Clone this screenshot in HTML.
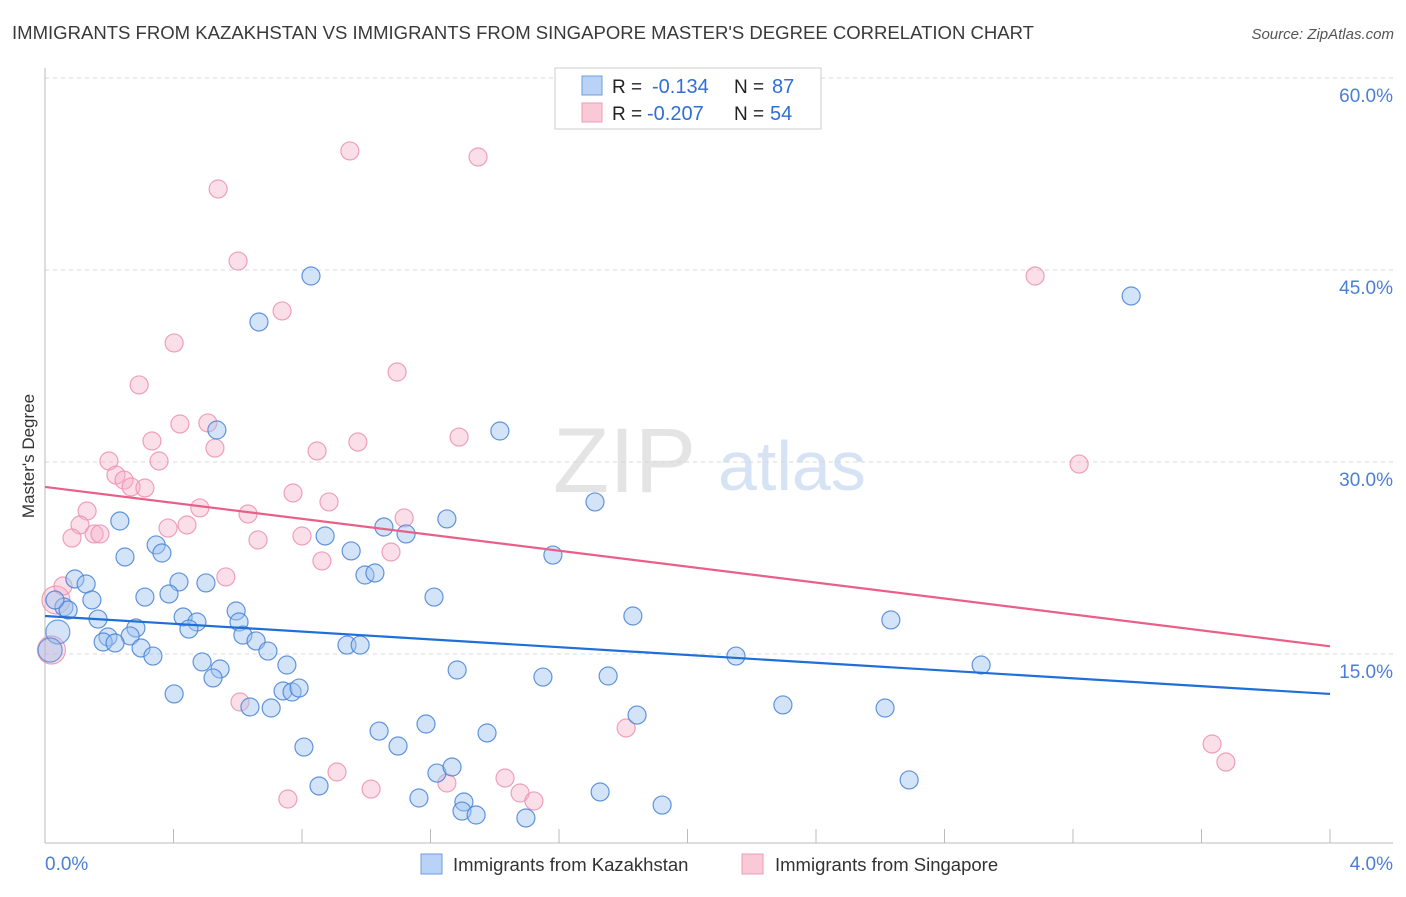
<!DOCTYPE html>
<html><head><meta charset="utf-8"><style>
body{margin:0;background:#fff;font-family:"Liberation Sans",sans-serif;}
svg text{font-family:"Liberation Sans",sans-serif;}
</style></head><body>
<svg id="chart" width="1406" height="892" viewBox="0 0 1406 892" xmlns="http://www.w3.org/2000/svg">
<text x="12" y="39" font-size="18.4" fill="#3a3a3a" textLength="1022" lengthAdjust="spacingAndGlyphs">IMMIGRANTS FROM KAZAKHSTAN VS IMMIGRANTS FROM SINGAPORE MASTER'S DEGREE CORRELATION CHART</text>
<text x="1394" y="39" font-size="15" fill="#555" font-style="italic" text-anchor="end">Source: ZipAtlas.com</text>
<g>
<text x="553" y="492" font-size="92" fill="#e4e4e4" font-family="Liberation Serif,serif">ZIP</text>
<text x="718" y="490" font-size="70" fill="#d6e3f5">atlas</text>
</g>
<g id="grid"></g>
<g id="axes"></g>
<g id="marks"></g>
<g id="trends"></g>
<text transform="translate(34,456) rotate(-90)" font-size="17" fill="#333" text-anchor="middle">Master's Degree</text>
<g>
<rect x="555" y="68" width="266" height="61" fill="#fff" stroke="#ccc"/>
<rect x="582" y="76" width="20" height="19" fill="#b9d2f5" stroke="#6f9ede"/>
<rect x="582" y="103" width="20" height="19" fill="#f9c9d7" stroke="#ee9db6"/>
<text x="612" y="93" font-size="19" fill="#222">R =</text>
<text x="652" y="93" font-size="20" fill="#2f6fd6">-0.134</text>
<text x="734" y="93" font-size="19" fill="#222">N =</text>
<text x="772" y="93" font-size="20" fill="#2f6fd6">87</text>
<text x="612" y="120" font-size="19" fill="#222">R =</text>
<text x="647" y="120" font-size="20" fill="#2f6fd6">-0.207</text>
<text x="734" y="120" font-size="19" fill="#222">N =</text>
<text x="770" y="120" font-size="20" fill="#2f6fd6">54</text>
</g>
<g>
<rect x="421" y="854" width="21" height="20" fill="#b9d2f5" stroke="#6f9ede"/>
<text x="453" y="871" font-size="18.5" fill="#333">Immigrants from Kazakhstan</text>
<rect x="742" y="854" width="21" height="20" fill="#f9c9d7" stroke="#ee9db6"/>
<text x="775" y="871" font-size="18.5" fill="#333">Immigrants from Singapore</text>
</g>
</svg>
<script>
const xTickLabels=["0.0%","4.0%"];
const yTicks=[15,30,45,60];
const yTickLabels=["15.0%","30.0%","45.0%","60.0%"];
const kazX=[0.828,0.666,0.535,1.416,3.381,1.712,1.251,0.233,1.055,1.124,0.872,0.346,0.364,0.249,0.953,1.581,0.093,0.128,0.417,0.501,0.996,1.027,1.211,0.311,0.386,0.146,0.059,0.072,0.031,0.165,0.430,0.473,0.595,0.604,1.830,2.633,0.448,0.283,0.196,0.265,0.616,0.657,0.181,0.218,0.299,0.694,0.940,0.981,0.336,2.151,2.914,0.489,0.545,0.753,1.283,0.523,1.550,1.753,0.402,0.741,0.769,0.791,0.638,0.704,2.297,2.615,1.843,1.186,1.040,1.376,0.806,1.099,1.220,1.267,0.853,1.728,2.690,1.164,1.304,1.298,1.342,1.497,1.921];
const kazY=[44.53,40.94,32.5,32.42,42.97,26.88,25.55,25.39,24.92,24.38,24.22,23.52,22.89,22.58,23.05,22.73,20.86,20.47,20.63,20.55,21.17,21.33,19.45,19.45,19.69,19.22,18.67,18.44,19.22,17.73,17.89,17.5,18.36,17.5,17.97,17.66,16.95,17.03,16.33,16.41,16.48,16.02,15.94,15.86,15.47,15.23,15.70,15.70,14.84,14.84,14.14,14.38,13.83,14.14,13.75,13.13,13.20,13.28,11.88,12.11,12.03,12.34,10.86,10.78,11.02,10.78,10.23,9.53,8.98,8.83,7.73,7.81,5.70,6.17,4.69,4.22,5.16,3.75,3.44,2.73,2.42,2.19,3.20];
const kazBigX=[0.04,0.016];
const kazBigY=[16.72,15.31];
const sinX=[0.949,1.348,0.539,0.601,0.738,3.082,0.402,1.096,0.293,0.507,0.420,0.333,0.974,1.289,0.529,0.847,0.199,0.355,3.219,0.221,0.246,0.268,0.311,0.772,0.884,0.482,0.131,0.632,1.118,0.109,0.383,0.442,0.153,0.171,0.084,0.663,0.800,1.077,0.862,0.563,0.056,0.607,3.633,1.809,3.676,0.909,1.015,1.251,1.432,1.479,1.522,0.756];
const sinY=[54.3,53.83,51.33,45.70,41.80,44.53,39.30,37.03,36.02,33.05,32.97,31.64,31.56,31.95,31.09,30.86,30.08,30.08,29.84,28.98,28.59,28.05,27.97,27.58,26.88,26.41,26.17,25.94,25.63,25.08,24.84,25.08,24.38,24.38,24.06,23.91,24.22,22.97,22.27,21.02,20.31,11.25,7.97,9.22,6.56,5.78,4.45,4.92,5.31,4.14,3.52,3.67];
const sinBigX=[0.02,0.034];
const sinBigY=[15.31,19.22];
const kazTrend=[17.97,11.88];
const sinTrend=[28.05,15.6];
const xDomain=[0,4];

const X0=45,X1=1330,YB=846,PX_PER=12.8;
const sx=v=>X0+(v-xDomain[0])/(xDomain[1]-xDomain[0])*(X1-X0);
const sy=v=>YB-v*PX_PER;
const NS="http://www.w3.org/2000/svg";
function mk(tag,attrs,parent){const e=document.createElementNS(NS,tag);for(const k in attrs)e.setAttribute(k,attrs[k]);parent.appendChild(e);return e;}
const grid=document.getElementById('grid'),axes=document.getElementById('axes'),marks=document.getElementById('marks'),trends=document.getElementById('trends');
yTicks.forEach((t,i)=>{
 const l=mk('line',{x1:X0,x2:1393,y1:sy(t),y2:sy(t),stroke:'#d8d8d8','stroke-dasharray':'4,4'},grid);
 
 
 const tx=mk('text',{x:1393,y:sy(t)+24,'font-size':19,fill:'#4a7fd4','text-anchor':'end'},axes);
 tx.textContent=yTickLabels[i];
 
 
});
const ya=mk('line',{x1:X0,x2:X0,y1:68,y2:843,stroke:'#bbb'},axes);


const xa=mk('line',{x1:X0,x2:1393,y1:843,y2:843,stroke:'#bbb'},axes);


for(let i=0;i<=10;i++){
 const v=xDomain[0]+i*(xDomain[1]-xDomain[0])/10;
 const t=mk('line',{x1:sx(v),x2:sx(v),y1:829,y2:843,stroke:'#bbb'},axes);
 
 
}
const xl0=mk('text',{x:45,y:870,'font-size':19,fill:'#4a7fd4'},axes);xl0.textContent=xTickLabels[0];


const xl1=mk('text',{x:1393,y:870,'font-size':19,fill:'#4a7fd4','text-anchor':'end'},axes);xl1.textContent=xTickLabels[1];


function dots(xs,ys,r,fill,stroke,name){
 xs.forEach((x,i)=>{
  const c=mk('circle',{cx:sx(x),cy:sy(ys[i]),r:r,fill:fill,stroke:stroke,'stroke-width':1.2},marks);
  
  
 });
}
dots(sinBigX,sinBigY,14,'rgba(245,170,195,0.35)','rgba(236,140,170,0.8)','point-singapore');
dots(kazBigX,kazBigY,12,'rgba(150,185,235,0.4)','rgba(80,135,215,0.8)','point-kazakhstan');
dots(sinX,sinY,9,'rgba(245,175,198,0.4)','rgba(236,145,175,0.85)','point-singapore');
dots(kazX,kazY,9,'rgba(160,195,240,0.45)','rgba(70,130,215,0.85)','point-kazakhstan');
const tb=mk('line',{x1:sx(xDomain[0]),x2:sx(xDomain[1]),y1:sy(kazTrend[0]),y2:sy(kazTrend[1]),stroke:'#1f6fd8','stroke-width':2.2},trends);


const tp=mk('line',{x1:sx(xDomain[0]),x2:sx(xDomain[1]),y1:sy(sinTrend[0]),y2:sy(sinTrend[1]),stroke:'#e8608a','stroke-width':2.2},trends);


</script>
</body></html>
